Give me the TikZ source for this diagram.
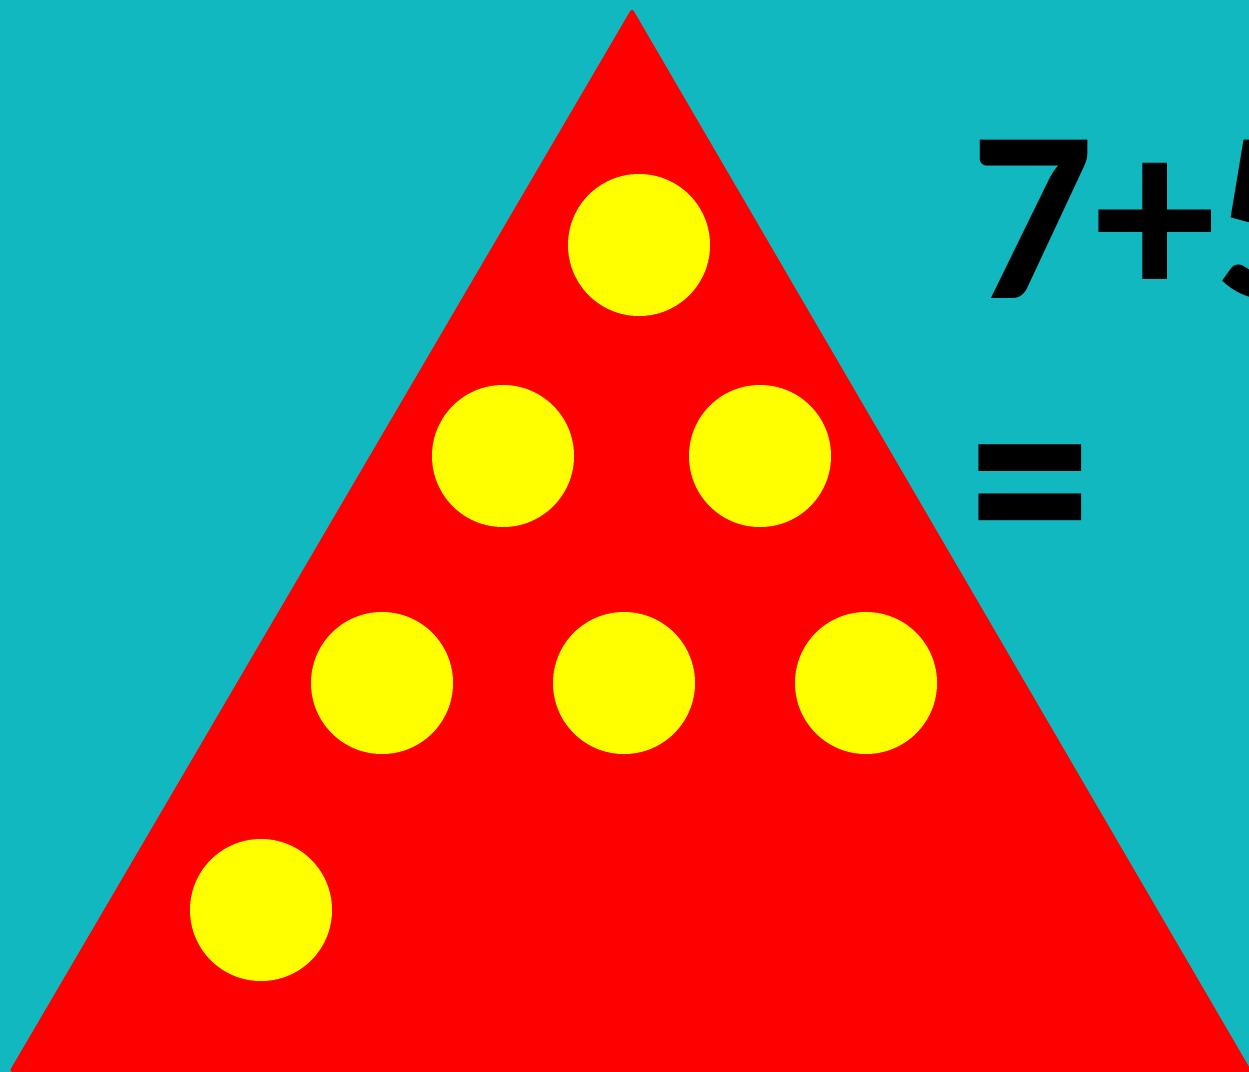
\documentclass[tikz,border=0pt]{standalone}
\usepackage{fontspec}
\setmainfont{Carlito}
\usetikzlibrary{positioning}

\definecolor{bgteal}{RGB}{18,184,192}
\definecolor{pyred}{RGB}{255,0,0}
\definecolor{dotyellow}{RGB}{255,255,0}

\begin{document}
\begin{tikzpicture}[x=0.02cm, y=-0.02cm,
    dot/.style={fill=dotyellow},
    sumtext/.style={inner sep=0pt, text=black, font=\fontsize{139}{139}\selectfont\bfseries}]

    % ==========================================
    % CANVAS: background and clip
    % ==========================================
    \useasboundingbox (0,0) rectangle (1249,1072);
    \clip (0,0) rectangle (1249,1072);
    \fill[bgteal] (0,0) rectangle (1249,1072);

    % ==========================================
    % THE TRIANGLE
    % ==========================================
    \fill[pyred, rounded corners=2pt] (632,8) -- (1252,1072) -- (9,1072) -- cycle;

    % Yellow counters (7 of them)
    \foreach \cx/\cy in {639/245, 503/456, 760/456, 382/683, 624/683, 866/683, 261/910}
        \fill[dot] (\cx,\cy) circle (71);

    % ==========================================
    % THE SUM
    % ==========================================
    \node[sumtext, anchor=base west] (sum) at (970,298) {7+5};
    \node[sumtext, yscale=1.2] (equals) at (1030,510) {=};

\end{tikzpicture}
\end{document}
